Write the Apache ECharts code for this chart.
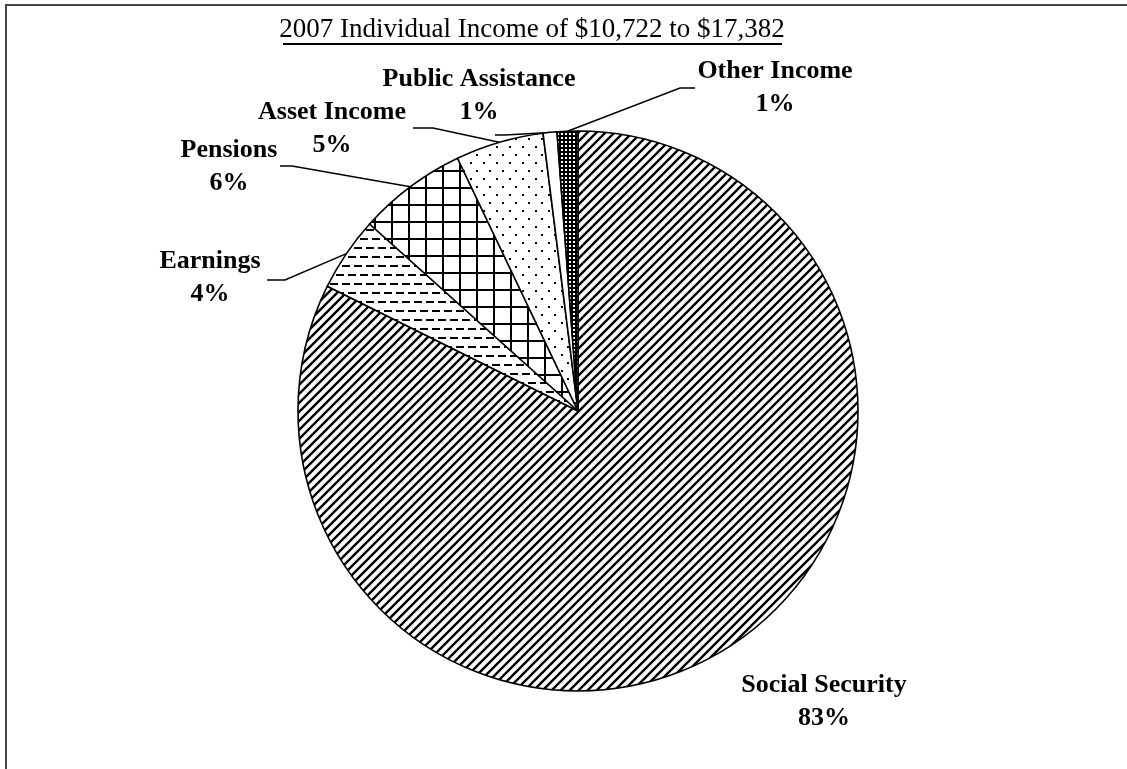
<!DOCTYPE html>
<html>
<head>
<meta charset="utf-8">
<script src="https://cdn.jsdelivr.net/npm/echarts@6/dist/echarts.min.js"></script>
<style>
html,body{margin:0;padding:0;background:#fff;}
#chart{width:1127px;height:769px;}
</style>
</head>
<body>
<div id="chart"></div>
<script>
// ---- data ----
var titleText = '2007 Individual Income of $10,722 to $17,382';
var categories = ['Social Security', 'Earnings', 'Pensions', 'Asset Income', 'Public Assistance', 'Other Income'];
var shares = [82.6, 4.3, 6.3, 5.1, 0.8, 1.2];   // percent of income (slice sizes)

// ---- layout (label anchor points and leader-line bends, pixels) ----
var labelAnchors = [[824, 702], [210, 278], [229, 167], [332, 129], [479, 96], [775, 88]];
var leaderBends = [null, [[285, 280], [267, 280]], [[292, 166], [280, 166]], [[433, 128], [413, 128]], [[505, 135], [495, 135]], [[680, 88], [695, 88]]];

function makePattern(w, h, draw) {
  var c = document.createElement('canvas');
  c.width = w; c.height = h;
  var ctx = c.getContext('2d');
  ctx.fillStyle = '#fff';
  ctx.fillRect(0, 0, w, h);
  ctx.fillStyle = '#000';
  ctx.strokeStyle = '#000';
  draw(ctx, w, h);
  return { image: c, repeat: 'repeat' };
}

var patterns = [
  // diagonal "/" hatch
  makePattern(9, 9, function (ctx, w, h) {
    ctx.lineWidth = 2.4;
    ctx.beginPath();
    ctx.moveTo(-2, h + 2); ctx.lineTo(w + 2, -2);
    ctx.moveTo(-2, 2); ctx.lineTo(2, -2);
    ctx.moveTo(w - 2, h + 2); ctx.lineTo(w + 2, h - 2);
    ctx.stroke();
  }),
  // staggered dashes
  makePattern(12, 18, function (ctx) {
    ctx.fillRect(0, 4, 8, 2);
    ctx.fillRect(6, 13, 6, 2);
    ctx.fillRect(0, 13, 2, 2);
  }),
  // square grid
  makePattern(17, 17, function (ctx) {
    ctx.fillRect(0, 0, 17, 2);
    ctx.fillRect(0, 0, 2, 17);
  }),
  // sparse dots
  makePattern(13, 16, function (ctx) {
    ctx.fillRect(2, 2, 2, 2);
    ctx.fillRect(8, 10, 2, 2);
  }),
  '#ffffff',
  // dense dark
  makePattern(4, 4, function (ctx) {
    ctx.fillRect(0, 0, 4, 4);
    ctx.fillStyle = '#fff';
    ctx.fillRect(1, 1, 2, 2);
  })
];

var seriesData = categories.map(function (name, i) {
  return {
    name: name,
    value: shares[i],
    itemStyle: { color: patterns[i] },
    labelLine: { show: i !== 0 }
  };
});

var chart = echarts.init(document.getElementById('chart'), null, { renderer: 'canvas' });
chart.setOption({
  animation: false,
  backgroundColor: '#fff',
  graphic: [
    { type: 'rect', shape: { x: 6, y: 5, width: 1300, height: 1000 }, style: { fill: 'none', stroke: '#444', lineWidth: 2 }, silent: true },
    { type: 'text', x: 532, y: 30, style: { text: titleText, font: '27px "Liberation Serif", "Times New Roman", serif', fill: '#000', align: 'center', verticalAlign: 'middle', textAlign: 'center', textVerticalAlign: 'middle' } },
    { type: 'line', shape: { x1: 283, y1: 44, x2: 782, y2: 44 }, style: { stroke: '#000', lineWidth: 2 } }
  ],
  series: [{
    type: 'pie',
    center: [578, 411],
    radius: 280,
    startAngle: 90,
    clockwise: true,
    avoidLabelOverlap: false,
    minShowLabelAngle: 0,
    itemStyle: { borderColor: '#000', borderWidth: 1.6 },
    label: {
      show: true,
      position: 'outside',
      formatter: function (p) { return p.name + '\n' + Math.round(p.value) + '%'; },
      fontFamily: '"Liberation Serif", "Times New Roman", serif',
      fontWeight: 'bold',
      fontSize: 26,
      lineHeight: 33,
      color: '#000',
      align: 'center'
    },
    labelLine: { show: true, lineStyle: { color: '#000', width: 1.5 }, smooth: false },
    labelLayout: function (params) {
      var i = params.dataIndex;
      var a = labelAnchors[i];
      var res = { x: a[0], y: a[1], align: 'center', verticalAlign: 'middle' };
      if (leaderBends[i] && params.labelLinePoints && params.labelLinePoints.length) {
        var start = params.labelLinePoints[0];
        res.labelLinePoints = [start].concat(leaderBends[i]);
      }
      return res;
    },
    data: seriesData
  }]
});
</script>
</body>
</html>
